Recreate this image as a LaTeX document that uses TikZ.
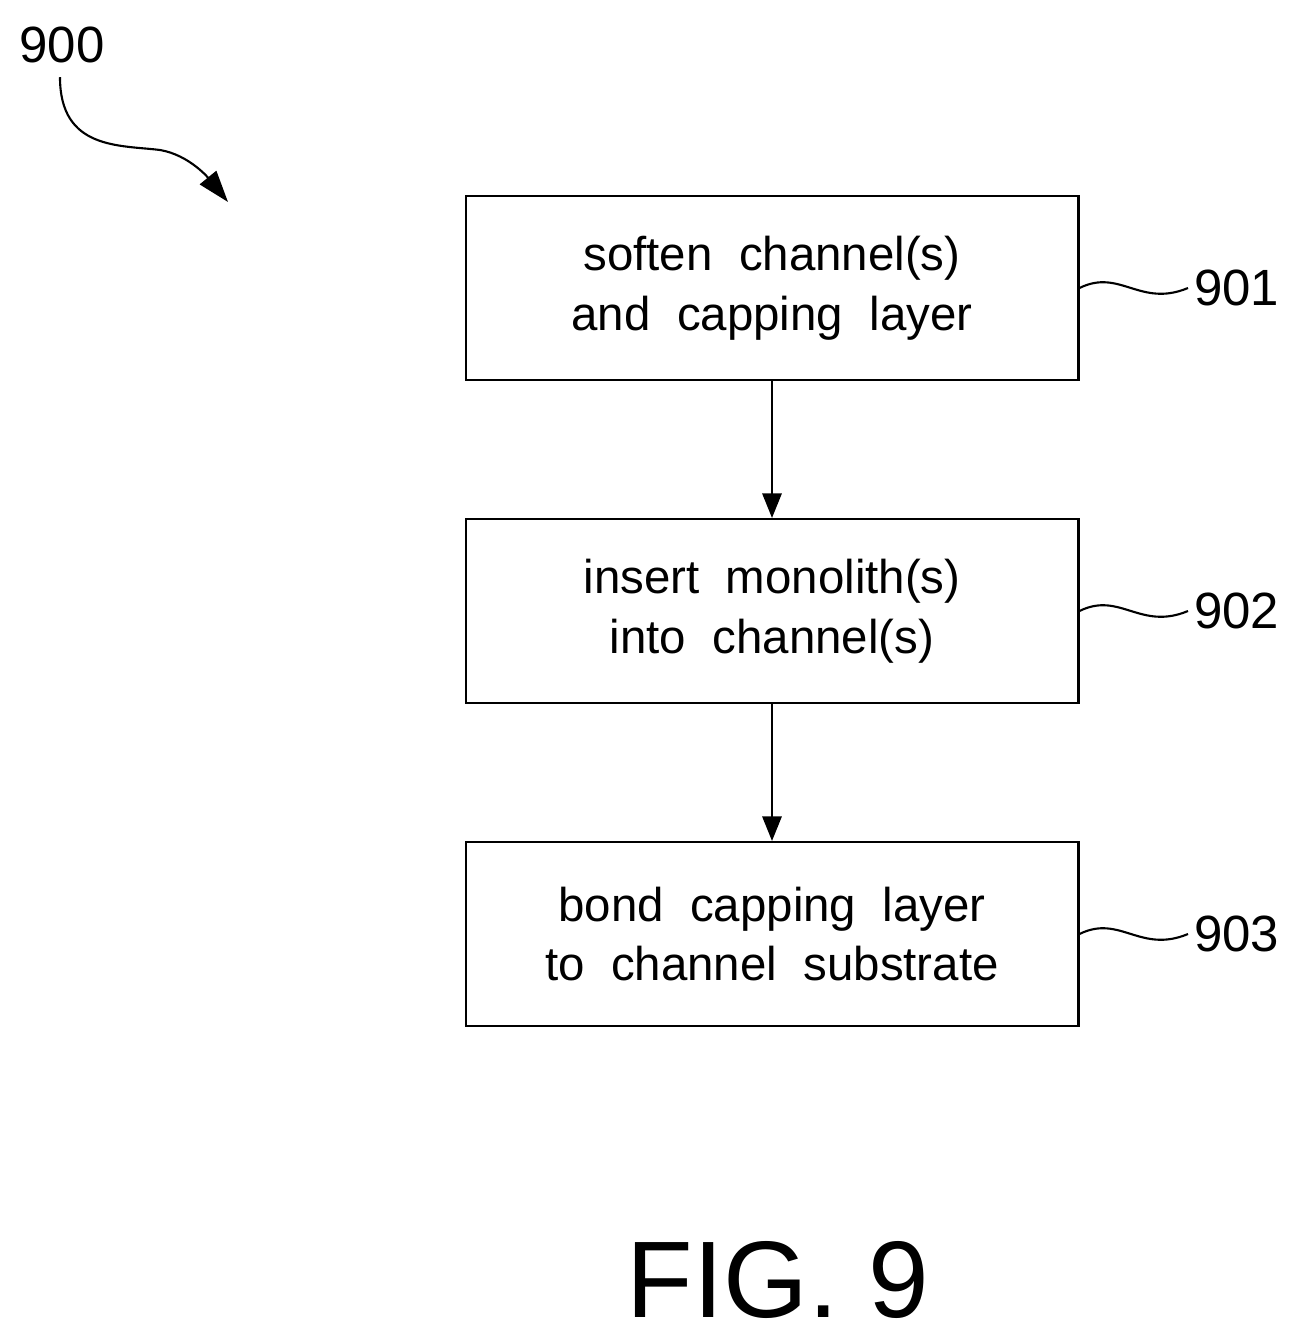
\documentclass[tikz,border=0pt]{standalone}
\usepackage{fontspec}
\setmainfont{Liberation Sans}
\usetikzlibrary{arrows.meta,positioning}
\begin{document}
\begin{tikzpicture}[x=0.02cm,y=-0.02cm,
  stepbox/.style={draw,line width=1.2pt,minimum width=12.26cm,minimum height=3.68cm,align=center,font=\fontsize{27}{34}\selectfont},
  flow/.style={-{Triangle[length=14pt,width=11pt]},line width=1.2pt},
  refnum/.style={font=\fontsize{29}{34}\selectfont}]
\useasboundingbox (0,0) rectangle (1308,1338);
\node[stepbox] (s1) at (772,288) {soften\ \ channel(s)\\and\ \ capping\ \ layer};
\node[stepbox] (s2) at (772,611) {insert\ \ monolith(s)\\into\ \ channel(s)};
\node[stepbox] (s3) at (772,934) {bond\ \ capping\ \ layer\\to\ \ channel\ \ substrate};
\draw[flow] (s1) -- (s2);
\draw[flow] (s2) -- (s3);
% reference numerals
\foreach \i/\y in {1/288,2/611,3/934}{
  \node[refnum,anchor=west] (r\i) at (1188,\y) {90\i};
  \draw[line width=1.2pt] (s\i.east) .. controls (1120,\y-20) and (1140,\y+20) .. (r\i.west);
}
\node[refnum] (fig) at (62,45) {900};
\draw[line width=1.2pt,-{Triangle[length=18pt,width=12pt]}] (fig.south) ++(-2,8) .. controls (60,150) and (120,145) .. (160,150) .. controls (190,155) and (210,180) .. (228,202);
\node[font=\fontsize{62}{70}\selectfont] (title) at (778,1280) {FIG. 9};
\end{tikzpicture}
\end{document}
